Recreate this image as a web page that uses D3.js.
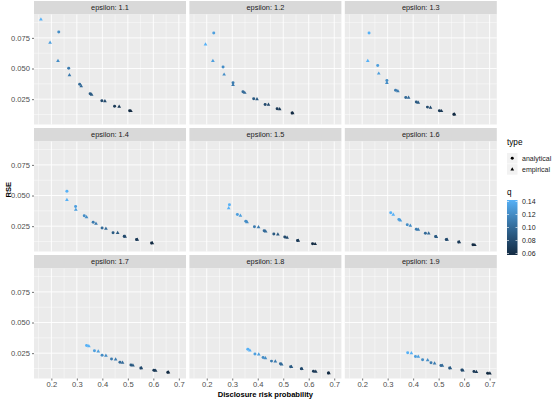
<!DOCTYPE html>
<html>
<head>
<meta charset="utf-8">
<script src="https://cdn.jsdelivr.net/npm/d3@7"></script>
<style>
  body { margin: 0; background: #fff; }
  text { font-family: "Liberation Sans", Arial, sans-serif; }
</style>
</head>
<body>
<script>
// facet labels and colour levels
const epsilons = ["1.1", "1.2", "1.3", "1.4", "1.5", "1.6", "1.7", "1.8", "1.9"];
const qLevels = [0.14, 0.13, 0.12, 0.11, 0.10, 0.09, 0.08, 0.07, 0.06];

// analytical points: one row per epsilon, one value per q level (null = no point)
const anaRisk = [
  [null, null, 0.229, 0.268, 0.311, 0.352, 0.398, 0.448, 0.507],
  [null, 0.2275, 0.264, 0.303, 0.342, 0.384, 0.429, 0.476, 0.5345],
  [0.227, 0.261, 0.297, 0.331, 0.371, 0.4125, 0.456, 0.503, 0.560],
  [0.261, 0.295, 0.329, 0.364, 0.399, 0.442, 0.486, 0.534, 0.593],
  [0.289, 0.320, 0.353, 0.387, 0.425, 0.463, 0.506, 0.556, 0.615],
  [0.312, 0.344, 0.377, 0.4125, 0.448, 0.488, 0.530, 0.5785, 0.6345],
  [0.338, 0.369, 0.399, 0.436, 0.469, 0.512, 0.551, 0.602, 0.657],
  [0.361, 0.389, 0.421, 0.454, 0.489, 0.529, 0.571, 0.6185, 0.677],
  [0.3785, 0.409, 0.437, 0.470, 0.509, 0.543, 0.591, 0.6385, 0.692]
];
const anaRSE = [
  [null, null, 0.0798, 0.0502, 0.0372, 0.0294, 0.0237, 0.0193, 0.0156],
  [null, 0.0789, 0.0513, 0.0383, 0.0310, 0.0254, 0.0207, 0.0172, 0.0137],
  [0.0789, 0.0524, 0.0402, 0.0323, 0.0264, 0.0226, 0.0185, 0.0156, 0.0126],
  [0.0534, 0.0410, 0.0335, 0.0281, 0.0235, 0.0197, 0.0167, 0.0142, 0.0112],
  [0.0424, 0.0345, 0.0291, 0.0245, 0.0213, 0.0186, 0.0161, 0.0132, 0.0107],
  [0.0359, 0.0305, 0.0262, 0.0224, 0.0192, 0.0165, 0.0142, 0.0121, 0.0099],
  [0.0313, 0.0270, 0.0232, 0.0202, 0.0175, 0.0153, 0.0129, 0.0110, 0.0094],
  [0.0281, 0.0243, 0.0215, 0.0185, 0.0164, 0.0140, 0.0123, 0.0102, 0.0088],
  [0.0254, 0.0223, 0.0197, 0.0172, 0.0150, 0.0129, 0.0113, 0.0100, 0.0086]
];

// empirical points
const empRisk = [
  [0.159, 0.195, 0.226, 0.271, 0.317, 0.358, 0.410, 0.466, 0.512],
  [0.195, 0.224, 0.268, 0.303, 0.349, 0.397, 0.442, 0.486, 0.537],
  [0.222, 0.265, 0.297, 0.340, 0.382, 0.420, 0.468, 0.511, 0.562],
  [0.261, 0.296, 0.338, 0.375, 0.414, 0.460, 0.489, 0.537, 0.596],
  [0.286, 0.332, 0.358, 0.403, 0.431, 0.479, 0.515, 0.559, 0.625],
  [0.322, 0.350, 0.389, 0.420, 0.461, 0.491, 0.533, 0.581, 0.642],
  [0.347, 0.384, 0.414, 0.452, 0.479, 0.520, 0.553, 0.609, 0.659],
  [0.369, 0.404, 0.430, 0.469, 0.494, 0.532, 0.573, 0.6275, 0.679],
  [0.393, 0.420, 0.457, 0.484, 0.5145, 0.546, 0.595, 0.648, 0.701]
];
const empRSE = [
  [0.0900, 0.0711, 0.0562, 0.0445, 0.0356, 0.0286, 0.0234, 0.0189, 0.0153],
  [0.0697, 0.0562, 0.0451, 0.0367, 0.0302, 0.0250, 0.0205, 0.0169, 0.0135],
  [0.0562, 0.0459, 0.0383, 0.0315, 0.0262, 0.0221, 0.0180, 0.0153, 0.0125],
  [0.0465, 0.0384, 0.0323, 0.0270, 0.0230, 0.0194, 0.0165, 0.0140, 0.0111],
  [0.0396, 0.0335, 0.0283, 0.0242, 0.0207, 0.0183, 0.0156, 0.0131, 0.0104],
  [0.0343, 0.0297, 0.0254, 0.0221, 0.0190, 0.0163, 0.0140, 0.0119, 0.0096],
  [0.0307, 0.0264, 0.0229, 0.0199, 0.0172, 0.0150, 0.0127, 0.0107, 0.0093],
  [0.0272, 0.0240, 0.0210, 0.0183, 0.0158, 0.0138, 0.0121, 0.0099, 0.0087],
  [0.0250, 0.0221, 0.0193, 0.0167, 0.0148, 0.0128, 0.0110, 0.0097, 0.0084]
];

const xTicks = [0.2, 0.3, 0.4, 0.5, 0.6, 0.7];
const yTicks = [0.025, 0.050, 0.075];
const qTicks = [0.06, 0.08, 0.10, 0.12, 0.14];

// build long table
let points = [];
epsilons.forEach((e, p) => {
  qLevels.forEach((q, i) => {
    if (anaRisk[p][i] != null) points.push({ panel: p, type: "analytical", q: q, x: anaRisk[p][i], y: anaRSE[p][i] });
    if (empRisk[p][i] != null) points.push({ panel: p, type: "empirical", q: q, x: empRisk[p][i], y: empRSE[p][i] });
  });
});

const width = 556, height = 402;
const panelW = 152, panelH = 110, stripH = 13.5;
const colLeft = c => 34 + c * 155.4;
const rowTop = r => 1 + r * 127;

// ggplot style 5% expansion
const xExt = d3.extent(points, d => d.x), yExt = d3.extent(points, d => d.y);
const xPad = (xExt[1] - xExt[0]) * 0.05, yPad = (yExt[1] - yExt[0]) * 0.05;
const x = d3.scaleLinear().domain([xExt[0] - xPad, xExt[1] + xPad]).range([0, panelW]);
const y = d3.scaleLinear().domain([yExt[0] - yPad, yExt[1] + yPad]).range([panelH, 0]);
const qExt = d3.extent(qLevels);
const color = d3.scaleLinear().domain(qExt).range(["#132B43", "#56B1F7"]).interpolate(d3.interpolateLab);

const xMinor = [0.15, 0.25, 0.35, 0.45, 0.55, 0.65, 0.75].filter(v => v > x.domain()[0] && v < x.domain()[1]);
const yMinor = [0.0125, 0.0375, 0.0625, 0.0875].filter(v => v > y.domain()[0] && v < y.domain()[1]);

const svg = d3.select("body").append("svg")
  .attr("width", width)
  .attr("height", height);

const shape = {
  analytical: d3.symbol().type(d3.symbolCircle).size(7)(),
  empirical: d3.symbol().type(d3.symbolTriangle).size(6)()
};

epsilons.forEach((e, p) => {
  const c = p % 3, r = Math.floor(p / 3);
  const g = svg.append("g").attr("transform", `translate(${colLeft(c)},${rowTop(r)})`);

  // strip
  g.append("rect").attr("width", panelW).attr("height", stripH).attr("fill", "#D9D9D9");
  g.append("text")
    .attr("x", panelW / 2).attr("y", stripH / 2 + 2.6)
    .attr("text-anchor", "middle")
    .attr("font-size", 7.4).attr("fill", "#1A1A1A")
    .text("epsilon: " + e);

  const pg = g.append("g").attr("transform", `translate(0,${stripH})`);
  pg.append("rect").attr("width", panelW).attr("height", panelH).attr("fill", "#EBEBEB");

  // minor grid
  xMinor.forEach(v => pg.append("line").attr("x1", x(v)).attr("x2", x(v)).attr("y1", 0).attr("y2", panelH)
    .attr("stroke", "#fff").attr("stroke-width", 0.45));
  yMinor.forEach(v => pg.append("line").attr("y1", y(v)).attr("y2", y(v)).attr("x1", 0).attr("x2", panelW)
    .attr("stroke", "#fff").attr("stroke-width", 0.45));
  // major grid
  xTicks.forEach(v => pg.append("line").attr("x1", x(v)).attr("x2", x(v)).attr("y1", 0).attr("y2", panelH)
    .attr("stroke", "#fff").attr("stroke-width", 0.9));
  yTicks.forEach(v => pg.append("line").attr("y1", y(v)).attr("y2", y(v)).attr("x1", 0).attr("x2", panelW)
    .attr("stroke", "#fff").attr("stroke-width", 0.9));

  // points
  pg.selectAll("path.pt")
    .data(points.filter(d => d.panel == p))
    .enter().append("path")
    .attr("class", "pt")
    .attr("d", d => shape[d.type])
    .attr("transform", d => `translate(${x(d.x)},${y(d.y)})`)
    .attr("fill", d => color(d.q));

  // axes
  if (c == 0) {
    const ay = pg.append("g")
      .call(d3.axisLeft(y).tickValues(yTicks).tickSize(2).tickPadding(2).tickFormat(d3.format(".3f")));
    ay.select(".domain").remove();
    ay.selectAll("line").attr("stroke", "#333333").attr("stroke-width", 0.7);
    ay.selectAll("text").attr("font-size", 7.6).attr("fill", "#4D4D4D").attr("font-family", null);
  }
  if (r == 2) {
    const ax = pg.append("g").attr("transform", `translate(0,${panelH})`)
      .call(d3.axisBottom(x).tickValues(xTicks).tickSize(2).tickPadding(1.5).tickFormat(d3.format(".1f")));
    ax.select(".domain").remove();
    ax.selectAll("line").attr("stroke", "#333333").attr("stroke-width", 0.7);
    ax.selectAll("text").attr("font-size", 7.6).attr("fill", "#4D4D4D").attr("font-family", null);
  }
});

// axis titles
svg.append("text")
  .attr("x", (colLeft(0) + colLeft(2) + panelW) / 2).attr("y", 396.5)
  .attr("text-anchor", "middle").attr("font-size", 7.6).attr("font-weight", "bold")
  .text("Disclosure risk probability");
svg.append("text")
  .attr("transform", `translate(10.5,${(rowTop(0) + rowTop(2) + stripH + panelH) / 2}) rotate(-90)`)
  .attr("text-anchor", "middle").attr("font-size", 7.6).attr("font-weight", "bold")
  .text("RSE");

// legend: type
const lx = 507;
svg.append("text").attr("x", lx).attr("y", 145).attr("font-size", 8.2).text("type");
["analytical", "empirical"].forEach((t, i) => {
  const ky = 153 + i * 11.2;
  svg.append("rect").attr("x", lx).attr("y", ky).attr("width", 10.5).attr("height", 10.5).attr("fill", "#F2F2F2");
  svg.append("path").attr("d", shape[t]).attr("transform", `translate(${lx + 5.25},${ky + 5.25})`).attr("fill", "#000");
  svg.append("text").attr("x", lx + 15).attr("y", ky + 7.8).attr("font-size", 7).attr("fill", "#1A1A1A").text(t);
});

// legend: q colourbar
svg.append("text").attr("x", lx).attr("y", 195).attr("font-size", 8.2).text("q");
const barTop = 200, barH = 55, barW = 10.5;
const grad = svg.append("defs").append("linearGradient").attr("id", "qgrad")
  .attr("x1", 0).attr("x2", 0).attr("y1", 1).attr("y2", 0);
d3.range(0, 1.0001, 0.1).forEach(t => {
  grad.append("stop").attr("offset", t).attr("stop-color", color(qExt[0] + t * (qExt[1] - qExt[0])));
});
svg.append("rect").attr("x", lx).attr("y", barTop).attr("width", barW).attr("height", barH).attr("fill", "url(#qgrad)");
const qy = d3.scaleLinear().domain(qExt).range([barTop + barH - 1.5, barTop + 1.5]);
qTicks.forEach(v => {
  svg.append("line").attr("x1", lx).attr("x2", lx + 2).attr("y1", qy(v)).attr("y2", qy(v)).attr("stroke", "#fff").attr("stroke-width", 0.6);
  svg.append("line").attr("x1", lx + barW - 2).attr("x2", lx + barW).attr("y1", qy(v)).attr("y2", qy(v)).attr("stroke", "#fff").attr("stroke-width", 0.6);
  svg.append("text").attr("x", lx + 15).attr("y", qy(v) + 2.5).attr("font-size", 7).attr("fill", "#1A1A1A").text(d3.format(".2f")(v));
});
</script>
</body>
</html>
